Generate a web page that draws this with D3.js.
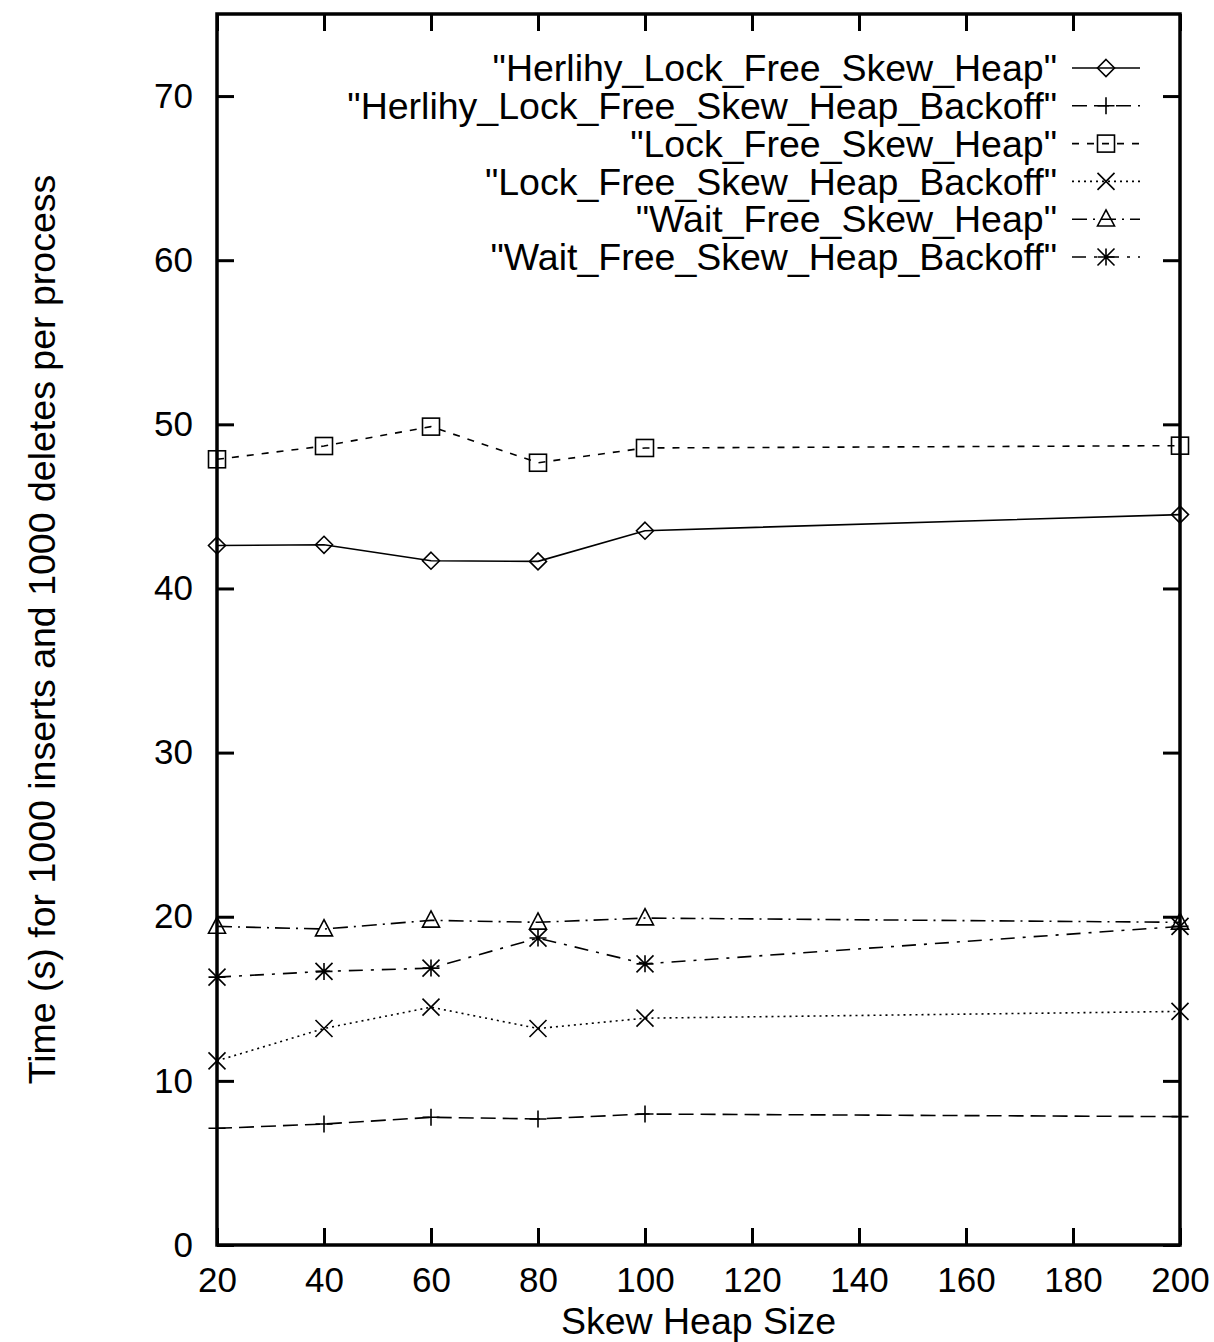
<!DOCTYPE html>
<html>
<head>
<meta charset="utf-8">
<script src="https://cdn.jsdelivr.net/npm/d3@7"></script>
<style>
  body { margin: 0; background: #fff; }
  text { font-family: "Liberation Sans", Arial, sans-serif; fill: #000; }
</style>
</head>
<body>
<svg id="chart"></svg>
<script>
const sizes = [20, 40, 60, 80, 100, 200];
const seriesNames = [
    '"Herlihy_Lock_Free_Skew_Heap"',
    '"Herlihy_Lock_Free_Skew_Heap_Backoff"',
    '"Lock_Free_Skew_Heap"',
    '"Lock_Free_Skew_Heap_Backoff"',
    '"Wait_Free_Skew_Heap"',
    '"Wait_Free_Skew_Heap_Backoff"'
];
const herlihy = [42.62, 42.66, 41.69, 41.65, 43.52, 44.5];
const herlihyBackoff = [7.11, 7.37, 7.78, 7.68, 7.98, 7.82];
const lockFree = [47.87, 48.68, 49.86, 47.66, 48.56, 48.7];
const lockFreeBackoff = [11.22, 13.19, 14.49, 13.19, 13.82, 14.23];
const waitFree = [19.41, 19.25, 19.78, 19.66, 19.92, 19.66];
const waitFreeBackoff = [16.32, 16.67, 16.87, 18.70, 17.13, 19.41];
const xTicks = [20, 40, 60, 80, 100, 120, 140, 160, 180, 200];
const yTicks = [0, 10, 20, 30, 40, 50, 60, 70];

const width = 1214, height = 1342;
const margin = {left: 217, right: 34, top: 14, bottom: 97};
const TICK_FONT = 35;
const LABEL_FONT = 37.5;
const TICK = 17;

const svg = d3.select("#chart").attr("width", width).attr("height", height);

const x = d3.scaleLinear().domain([20, 200]).range([margin.left, width - margin.right]);
const y = d3.scaleLinear().domain([0, 75]).range([height - margin.bottom, margin.top]);

const allSeries = [herlihy, herlihyBackoff, lockFree, lockFreeBackoff, waitFree, waitFreeBackoff];
const dashes = [null, "15,7", "7,8", "2,4", "15,6,2,6", "14,8,3,8"];
const markers = ["diamond", "plus", "square", "cross", "triangle", "star"];

// axes: gnuplot style inward ticks on all four sides
const g = svg.append("g");
const axisStyle = sel => {
    sel.select(".domain").remove();
    sel.selectAll(".tick line").attr("stroke", "#000").attr("stroke-width", 3);
    sel.selectAll(".tick text").attr("font-size", TICK_FONT).style("font-family", "Liberation Sans, Arial, sans-serif");
};
g.append("g").attr("transform", `translate(0,${y(0)})`)
    .call(d3.axisBottom(x).tickValues(xTicks).tickSize(-TICK).tickPadding(14))
    .call(axisStyle)
    .selectAll(".tick text").attr("dy", "0.95em");
g.append("g").attr("transform", `translate(0,${y(75)})`)
    .call(d3.axisTop(x).tickValues(xTicks).tickSize(-TICK).tickFormat(""))
    .call(axisStyle);
g.append("g").attr("transform", `translate(${x(20)},0)`)
    .call(d3.axisLeft(y).tickValues(yTicks).tickSize(-TICK).tickPadding(24))
    .call(axisStyle);
g.append("g").attr("transform", `translate(${x(200)},0)`)
    .call(d3.axisRight(y).tickValues(yTicks).tickSize(-TICK).tickFormat(""))
    .call(axisStyle);

svg.append("rect")
    .attr("x", x(20)).attr("y", y(75))
    .attr("width", x(200) - x(20)).attr("height", y(0) - y(75))
    .attr("fill", "none").attr("stroke", "#000").attr("stroke-width", 3.5);

svg.append("text")
    .attr("transform", `translate(42,${(y(0) + y(75)) / 2}) rotate(-90)`)
    .attr("text-anchor", "middle").attr("dy", "0.35em")
    .attr("font-size", LABEL_FONT)
    .text("Time (s) for 1000 inserts and 1000 deletes per process");
svg.append("text")
    .attr("x", (x(20) + x(200)) / 2).attr("y", 1334)
    .attr("text-anchor", "middle").attr("font-size", LABEL_FONT)
    .text("Skew Heap Size");

function drawMarker(sel, type, cx, cy) {
    const s = 8.5;
    const attrs = el => el.attr("fill", "none").attr("stroke", "#000").attr("stroke-width", 1.6);
    if (type === "diamond") {
        attrs(sel.append("path").attr("d", `M${cx},${cy - s}L${cx + s},${cy}L${cx},${cy + s}L${cx - s},${cy}Z`));
    } else if (type === "plus") {
        attrs(sel.append("path").attr("d", `M${cx - s},${cy}H${cx + s}M${cx},${cy - s}V${cy + s}`));
    } else if (type === "square") {
        attrs(sel.append("rect").attr("x", cx - s).attr("y", cy - s).attr("width", 2 * s).attr("height", 2 * s));
    } else if (type === "cross") {
        attrs(sel.append("path").attr("d", `M${cx - s},${cy - s}L${cx + s},${cy + s}M${cx - s},${cy + s}L${cx + s},${cy - s}`));
    } else if (type === "triangle") {
        attrs(sel.append("path").attr("d", `M${cx},${cy - s * 1.1}L${cx + s},${cy + s * 0.8}L${cx - s},${cy + s * 0.8}Z`));
    } else if (type === "star") {
        attrs(sel.append("path").attr("d",
            `M${cx - s},${cy}H${cx + s}M${cx},${cy - s}V${cy + s}M${cx - s},${cy - s}L${cx + s},${cy + s}M${cx - s},${cy + s}L${cx + s},${cy - s}`));
    }
}

const line = d3.line().x((d, i) => x(sizes[i])).y(d => y(d));

allSeries.forEach((vals, k) => {
    const sg = svg.append("g");
    sg.append("path").datum(vals)
        .attr("d", line)
        .attr("fill", "none").attr("stroke", "#000").attr("stroke-width", 1.6)
        .attr("stroke-dasharray", dashes[k]);
    vals.forEach((v, i) => drawMarker(sg, markers[k], x(sizes[i]), y(v)));
});

// legend
const legendTop = 68, legendStep = 37.8;
seriesNames.forEach((name, k) => {
    const ly = legendTop + k * legendStep;
    svg.append("text")
        .attr("x", 1057).attr("y", ly).attr("dy", "0.35em")
        .attr("text-anchor", "end").attr("font-size", LABEL_FONT)
        .text(name);
    svg.append("line")
        .attr("x1", 1072).attr("x2", 1140).attr("y1", ly).attr("y2", ly)
        .attr("stroke", "#000").attr("stroke-width", 1.6)
        .attr("stroke-dasharray", dashes[k]);
    drawMarker(svg, markers[k], 1106, ly);
});
</script>
</body>
</html>
